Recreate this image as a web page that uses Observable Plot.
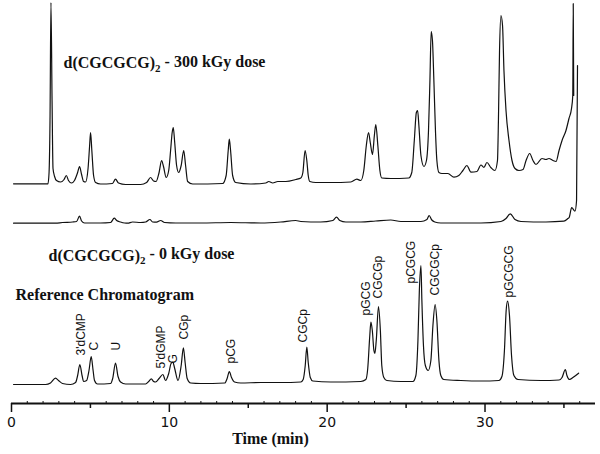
<!DOCTYPE html>
<html>
<head>
<meta charset="utf-8">
<script src="https://cdn.jsdelivr.net/npm/d3@7"></script>
<script src="https://cdn.jsdelivr.net/npm/@observablehq/plot@0.6"></script>
<style>
  html, body { margin: 0; padding: 0; background: #fff; }
  #chart svg { display: block; }
</style>
</head>
<body>
<div id="chart"></div>
<script>
// ---- Data (time in min, signal in arbitrary stacked units) ----
const dose300 = [
  [0.13,219.7],[2.31,219.7],[2.38,231],[2.44,283],[2.50,401],[2.57,303],[2.63,235],[2.73,227],[2.85,223],
  [3.11,221.5],[3.33,224],[3.47,228],[3.61,223],[3.80,220.5],[3.99,223],[4.19,231],[4.31,237],[4.44,229],
  [4.57,222],[4.69,221.5],[4.85,235],[4.95,258],[5.01,271],[5.09,253],[5.20,228],[5.33,221],[5.64,219.5],
  [6.40,220],[6.59,224.3],[6.78,220.5],[7.23,219],[8.18,219],[8.56,221],[8.81,226],[9.00,222.5],[9.16,222],
  [9.35,231],[9.51,243],[9.63,237],[9.80,226],[9.96,233],[10.08,253],[10.18,271],[10.25,276],[10.34,261],
  [10.46,238],[10.59,231],[10.75,238],[10.91,253],[11.03,238],[11.16,222],[11.48,219.5],[13.38,220],
  [13.60,228],[13.73,253],[13.80,264.3],[13.88,253],[14.01,228],[14.20,221],[15.16,219.5],[16.11,220.5],
  [16.30,222],[16.55,220.5],[16.87,222],[17.38,222],[18.01,224],[18.33,225.5],[18.46,231],[18.60,253],
  [18.71,243],[18.80,228],[18.90,222],[19.28,221],[20.23,221],[21.50,221.5],[21.88,224.3],[22.13,223],
  [22.32,233],[22.48,258],[22.62,271],[22.73,261],[22.87,249],[22.99,268],[23.08,279],[23.21,258],
  [23.34,233],[23.46,225.5],[24.03,225],[25.17,225.5],[25.36,231],[25.52,263],[25.65,291],[25.73,293],
  [25.81,278],[25.94,248],[26.13,237],[26.29,243],[26.42,273],[26.51,323],[26.59,372],[26.67,363],
  [26.76,323],[26.86,273],[26.95,243],[27.08,231],[27.27,230],[27.65,230],[28.03,226.3],[28.34,228],
  [28.60,233],[28.85,238],[29.11,231.3],[29.49,232],[29.74,238.5],[29.93,236],[30.12,241],[30.37,236],
  [30.63,233],[30.79,243],[30.85,283],[30.92,353],[31.01,388],[31.11,378],[31.20,333],[31.33,293],
  [31.52,263],[31.71,243],[31.90,235],[32.15,233],[32.41,234],[32.60,243],[32.83,250],[33.04,243],
  [33.23,239],[33.61,245],[33.86,244],[34.05,245],[34.30,243],[34.50,242],[34.69,253],[34.88,263],
  [35.13,273],[35.32,285],[35.48,295],[35.56,308],[35.59,400],[35.62,308]
];
const dose0 = [
  [0.13,180.3],[2.79,180.3],[3.23,181],[3.87,181.5],[4.12,182],[4.31,187.3],[4.44,182.5],[4.63,180.5],
  [5.64,180.5],[6.28,181],[6.51,185.3],[6.66,183],[6.91,181.5],[7.17,180.5],[7.36,180.3],[7.67,181.5],
  [8.18,181],[8.50,181.5],[8.77,184],[8.94,181.5],[9.19,181.3],[9.45,183],[9.70,181],[10.40,180.5],
  [11.98,180.5],[13.89,181],[15.79,180.5],[17.06,181.5],[18.01,183],[18.33,182],[19.59,181.5],
  [20.36,183],[20.59,186.3],[20.80,183],[21.18,181.5],[22.13,181.5],[23.08,182.5],[24.03,183.5],
  [24.67,182],[25.94,182],[26.32,184],[26.46,188],[26.63,183.5],[26.82,181.5],[27.20,180.5],
  [29.74,180.5],[31.01,182],[31.33,185],[31.60,189.7],[31.90,184],[32.28,182],[33.86,181.5],
  [35.00,182.3],[35.25,185],[35.34,186.3],[35.49,196],[35.70,192.3],[35.80,203],[35.86,338]
];
const reference = [
  [0.13,19],[2.16,19],[2.47,20.5],[2.79,25.3],[2.98,23],[3.23,20],[3.74,19],[4.06,21],[4.19,28],
  [4.33,39],[4.47,28],[4.57,22],[4.76,23],[4.91,33],[5.05,47],[5.17,33],[5.26,23],[5.45,19.5],
  [6.28,20],[6.41,25],[6.59,40.3],[6.75,27],[6.91,21.5],[7.23,19.5],[8.50,19.5],[8.69,22],[8.86,24.7],
  [9.00,22],[9.13,21.5],[9.35,25],[9.59,29],[9.76,23],[9.96,30],[10.11,40],[10.22,41.3],[10.34,35],
  [10.55,23],[10.75,38],[10.89,55.7],[11.00,41],[11.13,25],[11.35,20.5],[11.98,20],[13.51,20.5],
  [13.66,25],[13.80,32],[13.94,26],[14.13,21.5],[14.52,20.5],[15.79,21],[17.06,21],[18.33,21.5],
  [18.48,24],[18.61,38],[18.71,56.5],[18.80,41],[18.93,26],[19.09,22.5],[20.23,21.5],[22.13,22],
  [22.45,24],[22.57,35],[22.70,68],[22.77,81.3],[22.86,73],[22.96,53],[23.02,50],[23.11,63],
  [23.25,97],[23.37,73],[23.46,38],[23.59,26],[23.78,23],[24.67,22],[25.43,22],[25.62,28],[25.75,63],
  [25.84,113],[25.94,138],[26.00,103],[26.10,58],[26.22,38],[26.40,33],[26.57,43],[26.70,78],
  [26.84,99],[26.95,83],[27.08,43],[27.20,28],[27.39,24],[28.47,23],[29.74,22.5],[30.88,23],
  [31.07,27],[31.23,53],[31.34,93],[31.43,102.3],[31.55,88],[31.68,48],[31.83,28],[32.09,24],
  [33.54,23],[34.69,23.5],[34.88,26],[35.09,34],[35.19,28],[35.36,24],[35.57,26],[35.93,30.3]
];
// Peak labels of the reference chromatogram
const peakNames  = ["3'dCMP", "C", "U", "5'dGMP", "G", "CGp", "pCG", "CGCp", "pGCG", "CGCGp", "pCGCG", "CGCGCp", "pGCGCG"];
const peakTimes  = [4.44, 5.26, 6.60, 9.51, 10.24, 10.97, 13.90, 18.45, 22.50, 23.20, 25.30, 26.82, 31.52];
const peakLevels = [48, 53, 53, 35, 40, 64, 40, 61, 88, 105, 120, 108, 106];
// Axis ticks
const majorTicks = [0, 10, 20, 30];
const midTicks = [5, 15, 25, 35];
const minorTicks = d3.range(1, 37).filter(d => d % 5 !== 0);
const traceTitles = ["d(CGCGCG)2 - 300 kGy dose", "d(CGCGCG)2 - 0 kGy dose", "Reference Chromatogram"];

const peaks = peakNames.map((n, i) => ({name: n, t: peakTimes[i], v: peakLevels[i]}));
const lineOpts = {x: d => d[0], y: d => d[1], stroke: "#111", strokeWidth: 1.2, curve: "monotone-x"};
const serif = "'Liberation Serif', 'Times New Roman', serif";

const chart = Plot.plot({
  width: 600, height: 454,
  marginLeft: 11, marginRight: 5, marginTop: 0, marginBottom: 51,
  x: {domain: [0, 37]},
  y: {domain: [0, 403], axis: null},
  style: {background: "white", color: "#111"},
  marks: [
    Plot.line(dose300, lineOpts),
    Plot.line(dose0, lineOpts),
    Plot.line(reference, lineOpts),
    Plot.text(peaks, {x: "t", y: "v", text: "name", rotate: -90, textAnchor: "start",
      fontFamily: "'Liberation Sans', Arial, sans-serif", fontSize: 12, fill: "#111"}),
    Plot.text([traceTitles[0]], {frameAnchor: "top-left", dx: 52, dy: 56.5, textAnchor: "start",
      fontFamily: serif, fontSize: 16, fontWeight: "bold", fill: "#111"}),
    Plot.text([traceTitles[1]], {frameAnchor: "top-left", dx: 37, dy: 249, textAnchor: "start",
      fontFamily: serif, fontSize: 16, fontWeight: "bold", fill: "#111"}),
    Plot.text([traceTitles[2]], {frameAnchor: "top-left", dx: 4, dy: 288, textAnchor: "start",
      fontFamily: serif, fontSize: 16, fontWeight: "bold", fill: "#111"}),
    Plot.ruleY([0], {strokeWidth: 2, stroke: "#111"}),
    Plot.ruleX(minorTicks, {y1: 0, y2: 2, stroke: "#111", strokeWidth: 1}),
    Plot.axisX({ticks: midTicks, tickSize: 5, tickFormat: () => "", strokeWidth: 1.5, label: null}),
    Plot.axisX({ticks: majorTicks, tickSize: 9, tickPadding: 5, tickFormat: d => String(d),
      fontSize: 14, fontFamily: "'DejaVu Sans', sans-serif", strokeWidth: 1.5, label: null}),
    Plot.text(["Time (min)"], {frameAnchor: "bottom", dx: -33, dy: 40.5,
      fontFamily: serif, fontSize: 16, fontWeight: "bold", fill: "#111"})
  ]
});

// subscript "2" in the sample titles
d3.select(chart).selectAll("text").each(function() {
  const s = this.textContent;
  const m = s.match(/^d\(CGCGCG\)2(.*)$/);
  if (m) {
    const t = d3.select(this);
    t.text(null);
    t.append("tspan").text("d(CGCGCG)");
    t.append("tspan").attr("dy", "0.3em").attr("font-size", "11px").text("2");
    t.append("tspan").attr("dy", "-0.3em").text(m[1]);
  }
});

document.getElementById("chart").appendChild(chart);
</script>
</body>
</html>
